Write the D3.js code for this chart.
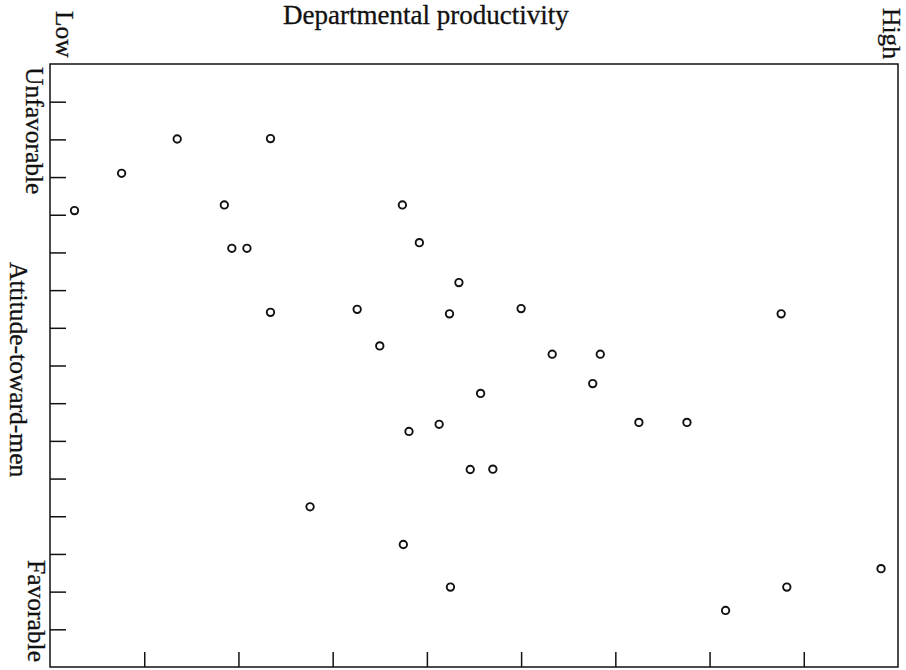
<!DOCTYPE html>
<html>
<head>
<meta charset="utf-8">
<script src="https://cdn.jsdelivr.net/npm/d3@7"></script>
<style>
  body { margin: 0; background: #fff; }
  text { font-family: "Liberation Serif", "Times New Roman", serif; fill: #111; stroke: #111; stroke-width: 0.3px; }
</style>
</head>
<body>
<div id="chart"></div>
<script>
// productivity (0 = low, 9 = high) and attitude (0 = favorable, 16 = unfavorable)
var productivity = [0.26, 0.76, 1.35, 2.34, 1.85, 1.93, 2.09, 2.34, 2.76, 3.26, 3.50,
                    3.74, 3.92, 4.34, 4.24, 5.00, 5.33, 5.84, 5.76, 4.57, 4.13, 3.81,
                    4.46, 4.70, 3.75, 4.25, 6.25, 6.76, 7.76, 7.17, 7.82, 8.82];
var attitude = [12.11, 13.10, 14.01, 14.02, 12.26, 11.11, 11.11, 9.41, 4.25, 9.49, 8.52,
                12.26, 11.26, 10.20, 9.37, 9.51, 8.30, 8.30, 7.52, 7.26, 6.44, 6.25,
                5.24, 5.25, 3.25, 2.12, 6.49, 6.49, 9.37, 1.50, 2.12, 2.61];
var xTicks = [1, 2, 3, 4, 5, 6, 7, 8];
var yTicks = [1, 2, 3, 4, 5, 6, 7, 8, 9, 10, 11, 12, 13, 14, 15];

var width = 906, height = 670;
var plotLeft = 50, plotTop = 64, plotRight = 898, plotBottom = 667;

var svg = d3.select("#chart").append("svg")
    .attr("width", width)
    .attr("height", height);

var x = d3.scaleLinear().domain([0, 9]).range([plotLeft, plotRight]);
var y = d3.scaleLinear().domain([0, 16]).range([plotBottom, plotTop]);

// ticks point into the plot
svg.append("g")
    .attr("transform", "translate(0," + plotBottom + ")")
    .call(d3.axisBottom(x).tickValues(xTicks).tickSizeInner(-15).tickSizeOuter(0).tickFormat(""))
    .call(function (g) { g.select(".domain").remove(); })
    .selectAll("line").attr("stroke", "#111").attr("stroke-width", 1.5);

svg.append("g")
    .attr("transform", "translate(" + plotLeft + ",0)")
    .call(d3.axisLeft(y).tickValues(yTicks).tickSizeInner(-16).tickSizeOuter(0).tickFormat(""))
    .call(function (g) { g.select(".domain").remove(); })
    .selectAll("line").attr("stroke", "#111").attr("stroke-width", 1.5);

// frame
svg.append("rect")
    .attr("x", plotLeft).attr("y", plotTop)
    .attr("width", plotRight - plotLeft).attr("height", plotBottom - plotTop)
    .attr("fill", "none").attr("stroke", "#111").attr("stroke-width", 1.5);

// points
svg.selectAll("circle.pt")
    .data(productivity)
    .enter()
    .append("circle")
    .attr("class", "pt")
    .attr("cx", function (d) { return x(d); })
    .attr("cy", function (d, i) { return y(attitude[i]); })
    .attr("r", 3.7)
    .attr("fill", "#fff")
    .attr("stroke", "#111")
    .attr("stroke-width", 1.9);

// labels
svg.append("text")
    .attr("x", 283).attr("y", 24)
    .style("font-size", "27px")
    .text("Departmental productivity");

function vtext(px, py, s) {
  svg.append("text")
      .attr("transform", "translate(" + px + "," + py + ") rotate(90)")
      .style("font-size", "25.5px")
      .text(s);
}
vtext(56, 11, "Low");
vtext(883, 8, "High");
vtext(26, 67, "Unfavorable");
vtext(10, 262, "Attitude-toward-men");
vtext(28, 560, "Favorable");
</script>
</body>
</html>
